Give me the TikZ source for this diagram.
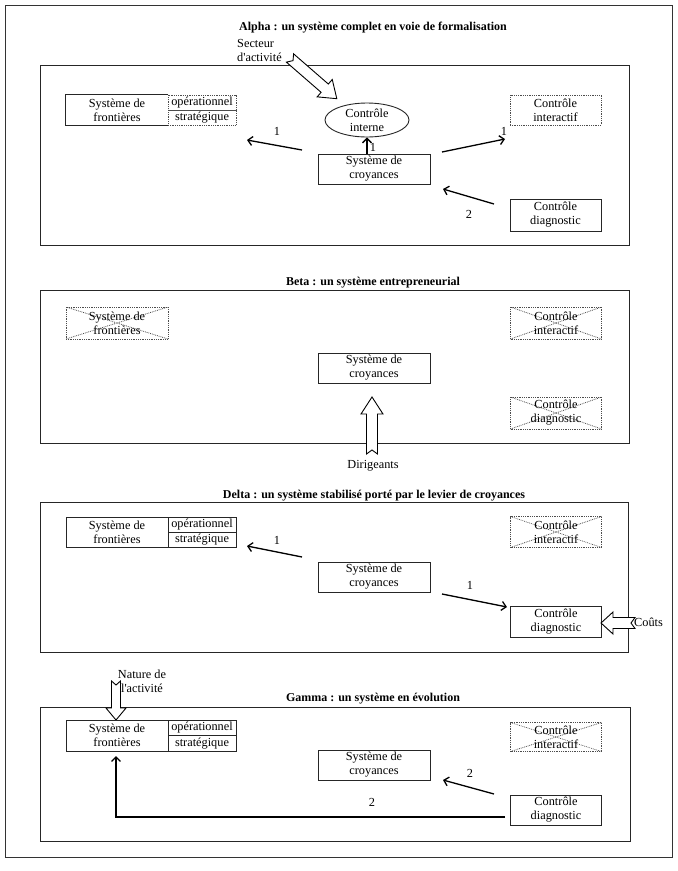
\documentclass[tikz,border=0pt]{standalone}
\usepackage{fontspec}
\setmainfont{Liberation Serif}
\usetikzlibrary{arrows.meta,shapes.geometric}
\tikzset{
  txt/.style={font=\fontsize{12.3}{14}\selectfont, inner sep=0pt, align=center},
  ttl/.style={font=\bfseries\fontsize{12}{14}\selectfont, inner sep=0pt},
  sect/.style={draw=black!85, line width=0.9pt},
  box/.style={txt, draw=black!85, line width=0.9pt, minimum width=#1, minimum height=30pt},
  dbox/.style={txt, draw=black!70, line width=0.8pt, densely dotted, minimum width=#1, minimum height=30pt},
  half/.style={txt, draw=black!85, line width=0.9pt, minimum width=68pt, minimum height=15pt},
  dhalf/.style={txt, draw=black!70, line width=0.8pt, densely dotted, minimum width=68pt, minimum height=15pt},
  crossA/.style={dbox=#1, path picture={
      \draw[black!70, densely dotted, line width=0.8pt]
        (path picture bounding box.north west) -- (path picture bounding box.south east)
        (path picture bounding box.south west) -- (path picture bounding box.north east);}},
  crossB/.style={dbox=#1, path picture={
      \draw[black!80, line width=0.6pt]
        (path picture bounding box.north west) -- (path picture bounding box.south east);
      \draw[black!70, densely dotted, line width=0.8pt]
        (path picture bounding box.south west) -- (path picture bounding box.north east);}},
  arr/.style={line width=1.3pt, -{Straight Barb[length=4.5pt,width=9pt]}},
  num/.style={txt},
  pics/harrow/.style n args={4}{code={
      \draw[line width=0.9pt, fill=white]
        (0,-#2) -- (#1-#4,-#2) -- (#1-#4,-#3) -- (#1,0) -- (#1-#4,#3)
        -- (#1-#4,#2) -- (0,#2) -- (4,0) -- cycle;}}
}
\begin{document}
\begin{tikzpicture}[x=1pt,y=-1pt]
\useasboundingbox (0,0) rectangle (678,871);
\draw[black!80, line width=1pt] (5,5) rectangle (672,857);

% ---------------- Alpha
\node[ttl] (at) at (373,28) {Alpha : un système complet en voie de formalisation};
\draw[sect] (40,65) rectangle (629,245);
\node[txt, align=left, anchor=west] (asec) at (237,50) {Secteur\\d\textquotesingle activité};
\pic[rotate=-41] at (290,58) {harrow={62}{5.5}{11.5}{16}};
\node[box=102pt, draw=none] (afl) at (117,110) {Système de\\frontières};
\draw[black!85, line width=0.9pt] (afl.north east) -- (afl.north west) -- (afl.south west) -- (afl.south east);
\node[dhalf] (aop) at (202,102.5) {opérationnel};
\node[dhalf] (ast) at (202,117.5) {stratégique};
\node[txt, ellipse, draw=black!85, line width=0.9pt, minimum width=84pt, minimum height=34pt] (aci) at (367,120) {Contrôle\\interne};
\node[dbox=91pt] (aint) at (555.5,110) {Contrôle\\interactif};
\node[box=112pt] (acr) at (374,169) {Système de\\croyances};
\node[box=91pt, minimum height=32pt] (adg) at (555.5,215) {Contrôle\\diagnostic};
\coordinate (a1s) at (302,150); \coordinate (a1e) at (247,140);
\draw[arr] (a1s) -- (a1e);
\node[num] (a1n) at (277,131) {1};
\coordinate (a2s) at (442,152); \coordinate (a2e) at (505,139);
\draw[arr] (a2s) -- (a2e);
\node[num] (a2n) at (504,131) {1};
\draw[arr] (acr.north -| aci.south) -- (aci.south);
\node[num] (a3n) at (373,147) {1};
\coordinate (a4s) at (494,204); \coordinate (a4e) at (443,189);
\draw[arr] (a4s) -- (a4e);
\node[num] (a4n) at (469,214) {2};

% ---------------- Beta
\node[ttl] (bt) at (373,283) {Beta : un système entrepreneurial};
\draw[sect] (40,290) rectangle (629,443);
\node[crossA=102pt, minimum height=32pt] (bfl) at (117,323) {Système de\\frontières};
\node[crossA=91pt, minimum height=32pt] (bint) at (556,323) {Contrôle\\interactif};
\node[box=112pt] (bcr) at (374,368) {Système de\\croyances};
\node[crossA=91pt, minimum height=32pt] (bdg) at (556,413) {Contrôle\\diagnostic};
\pic[rotate=90] at (372,454) {harrow={57}{5.5}{11}{17}};
\node[txt] (bdir) at (373,466) {Dirigeants};

% ---------------- Delta
\node[ttl] (dt) at (374,496) {Delta : un système stabilisé porté par le levier de croyances};
\draw[sect] (40,502) rectangle (628,652);
\node[box=102pt] (dfl) at (117,532) {Système de\\frontières};
\node[half] (dop) at (202,524.5) {opérationnel};
\node[half] (dst) at (202,539.5) {stratégique};
\node[crossB=91pt, minimum height=31pt] (dint) at (556,532) {Contrôle\\interactif};
\node[box=112pt] (dcr) at (374,577) {Système de\\croyances};
\node[box=91pt, minimum height=31pt] (ddg) at (556,622) {Contrôle\\diagnostic};
\coordinate (d1s) at (302,557); \coordinate (d1e) at (247,546);
\draw[arr] (d1s) -- (d1e);
\node[num] (d1n) at (277,540) {1};
\coordinate (d2s) at (442,594); \coordinate (d2e) at (507,607);
\draw[arr] (d2s) -- (d2e);
\node[num] (d2n) at (470,585) {1};
\pic[rotate=180] at (635,623) {harrow={34}{5.5}{11}{12}};
\node[txt, anchor=west] (dcout) at (634,622) {Coûts};

% ---------------- Gamma
\node[txt] (gnat) at (142,681) {Nature de\\l\textquotesingle activité};
\node[ttl] (gt) at (373,699) {Gamma : un système en évolution};
\draw[sect] (40,707) rectangle (630,841);
\pic[rotate=-90] at (116,681) {harrow={39}{4.5}{10}{12}};
\node[box=102pt, minimum height=31pt] (gfl) at (117,735.5) {Système de\\frontières};
\node[half] (gop) at (202,727.75) {opérationnel};
\node[half, minimum height=15.5pt] (gst) at (202,743.25) {stratégique};
\node[crossB=91pt, minimum height=29pt] (gint) at (556,737) {Contrôle\\interactif};
\node[box=112pt] (gcr) at (374,765) {Système de\\croyances};
\node[box=91pt] (gdg) at (556,810) {Contrôle\\diagnostic};
\coordinate (g1s) at (494,794); \coordinate (g1e) at (443,780);
\draw[arr] (g1s) -- (g1e);
\node[num] (g1n) at (470,773) {2};
\coordinate (g2s) at (505,817); \coordinate (g2e) at (116,756);
\draw[arr] (g2s) -| (g2e);
\node[num] (g2n) at (372,802) {2};
\end{tikzpicture}
\end{document}
